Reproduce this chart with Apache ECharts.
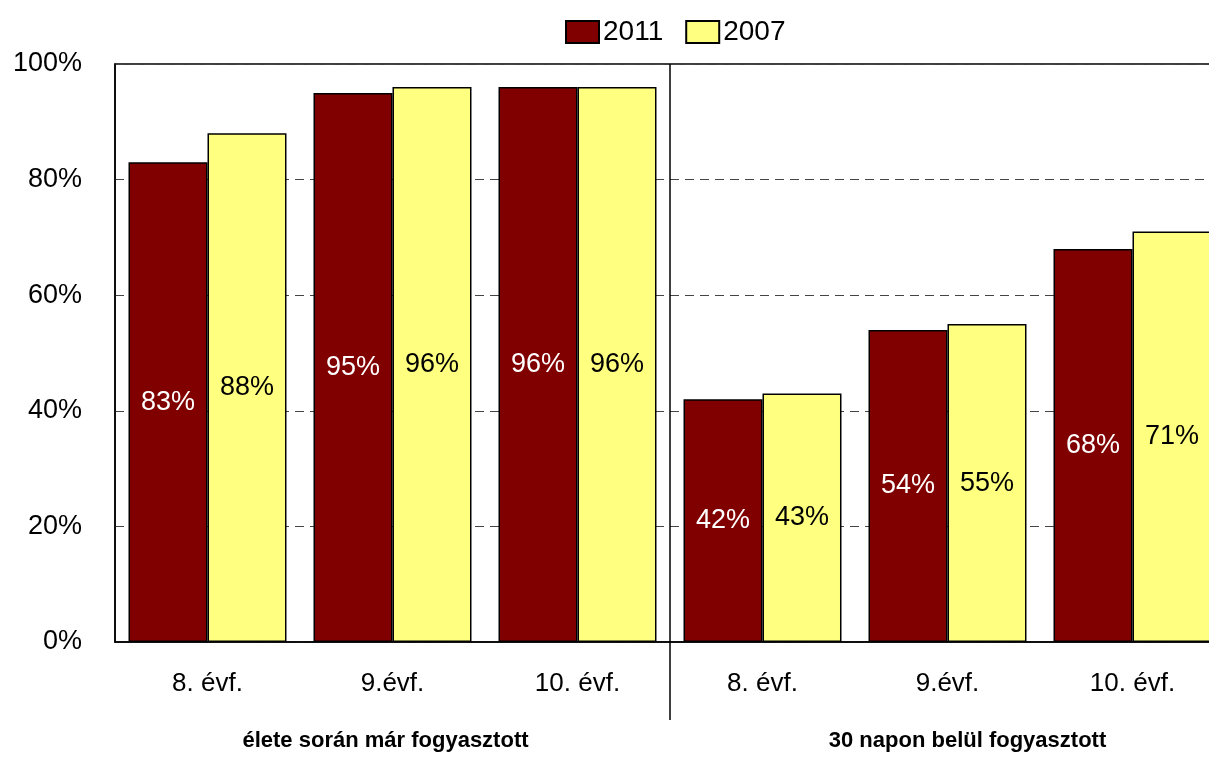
<!DOCTYPE html>
<html>
<head>
<meta charset="utf-8">
<script src="https://cdn.jsdelivr.net/npm/echarts@6/dist/echarts.min.js"></script>
<style>
  html, body { margin: 0; padding: 0; background: #fff; }
  #chart { width: 1209px; height: 757px; }
</style>
</head>
<body>
<div id="chart"></div>
<script>
const grades = ['8. évf.', '9.évf.', '10. évf.', '8. évf.', '9.évf.', '10. évf.']
const groups = ['élete során már fogyasztott', '30 napon belül fogyasztott']
const values2011 = [83, 95, 96, 42, 54, 68]
const values2007 = [88, 96, 96, 43, 55, 71]
const yTicks = [0, 20, 40, 60, 80, 100]

const font = "'Liberation Sans', Arial, sans-serif"

const chart = echarts.init(document.getElementById('chart'))

const option = {
  backgroundColor: '#fff',
  animation: false,
  textStyle: { fontFamily: font },
  legend: {
    top: 13,
    left: 560,
    itemWidth: 33,
    itemHeight: 22,
    itemGap: 22,
    icon: 'rect',
    textStyle: { fontSize: 28, color: '#000', padding: [0, 0, 0, -1] },
    data: ['2011', '2007']
  },
  grid: {
    left: 115, width: 1110, top: 64, bottom: 115,
    outerBoundsMode: 'none',
    show: true, borderColor: '#000', borderWidth: 1.5
  },
  xAxis: [{
    type: 'category',
    data: grades,
    axisLine: { lineStyle: { color: '#000', width: 1.5 } },
    axisTick: { show: false },
    axisLabel: { color: '#000', fontSize: 26, margin: 29 }
  }, {
    type: 'category',
    data: [
      { value: groups[0], textStyle: { padding: [0, 14, 0, 0] } },
      { value: groups[1], textStyle: { padding: [0, 0, 0, 40] } }
    ],
    position: 'bottom',
    offset: 80,
    axisLine: { show: false },
    axisTick: { show: false },
    axisLabel: { color: '#000', fontSize: 22, fontWeight: 'bold', margin: 8 }
  }],
  yAxis: {
    type: 'value',
    min: yTicks[0],
    max: yTicks[yTicks.length - 1],
    interval: 20,
    axisLine: { show: true, lineStyle: { color: '#000', width: 1.5 } },
    axisTick: { show: false },
    axisLabel: { color: '#000', fontSize: 27, margin: 33, formatter: '{value}%' },
    splitLine: { lineStyle: { color: '#444', type: [9, 6], width: 1 } }
  },
  series: [{
    name: '2011',
    type: 'bar',
    data: values2011,
    barGap: '0%',
    barCategoryGap: '14.6%',
    itemStyle: { color: '#800000', borderColor: '#000', borderWidth: 1.5 },
    label: { show: true, position: 'inside', color: '#fff', fontSize: 27, formatter: '{c}%' }
  }, {
    name: '2007',
    type: 'bar',
    data: values2007,
    itemStyle: { color: '#ffff80', borderColor: '#000', borderWidth: 1.5 },
    label: { show: true, position: 'inside', color: '#000', fontSize: 27, formatter: '{c}%' }
  }]
}

chart.setOption(option)

// divider between the two groups, placed from the axis scales
const c2 = chart.convertToPixel({ xAxisIndex: 0 }, grades.length / 2 - 1)
const c3 = chart.convertToPixel({ xAxisIndex: 0 }, grades.length / 2)
const xDiv = (c2 + c3) / 2
const yTop = chart.convertToPixel({ yAxisIndex: 0 }, 100)
const yBottom = chart.convertToPixel({ yAxisIndex: 0 }, 0)
chart.setOption({
  graphic: [{
    type: 'line',
    shape: { x1: xDiv, y1: yTop, x2: xDiv, y2: yBottom + 78 },
    style: { stroke: '#000', lineWidth: 1.5 },
    z: 10
  }]
})
</script>
</body>
</html>
